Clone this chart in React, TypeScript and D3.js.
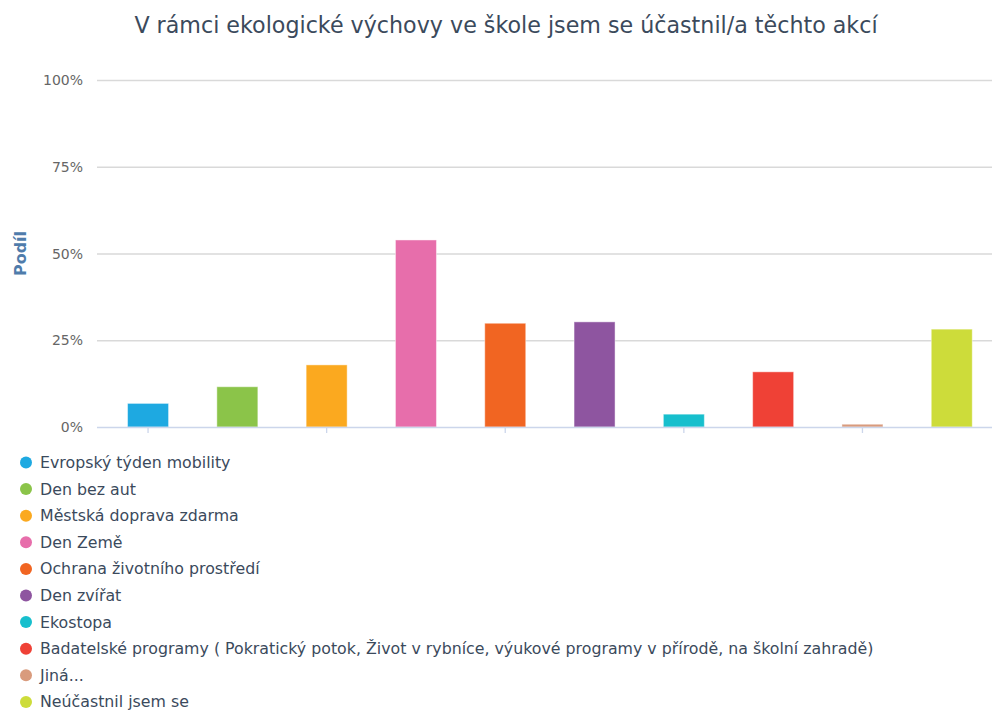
import React, { useRef, useEffect } from 'react';
import * as d3 from 'd3';

// chart data
const categories = [
  'Evropský týden mobility',
  'Den bez aut',
  'Městská doprava zdarma',
  'Den Země',
  'Ochrana životního prostředí',
  'Den zvířat',
  'Ekostopa',
  'Badatelské programy ( Pokratický potok, Život v rybníce, výukové programy v přírodě, na školní zahradě)',
  'Jiná...',
  'Neúčastnil jsem se',
];
const values = [6.8, 11.6, 17.9, 53.9, 29.9, 30.3, 3.7, 15.9, 0.8, 28.2];
const colors = [
  '#1ea9e1', '#8bc449', '#fba91f', '#e76eab', '#f16522',
  '#8e55a0', '#17bfcd', '#ef4136', '#d99b7d', '#cddc3a',
];
const yTicks = [0, 25, 50, 75, 100];

const W = 992;
const H = 711;
const FONT = '"DejaVu Sans", Verdana, sans-serif';

const App = () => {
  const svgRef = useRef(null);

  useEffect(() => {
    const svg = d3.select(svgRef.current);
    svg.selectAll('*').remove();

    const plotLeft = 97;
    const plotRight = 992;

    // scales
    const xScale = d3.scaleBand()
      .domain(categories.map((d, i) => String(i)))
      .range([103.4, 996.4])
      .padding(0);
    const yScale = d3.scaleLinear().domain([0, 100]).range([427, 80]);
    const barW = 41;

    // title
    svg.append('text')
      .attr('x', 506)
      .attr('y', 33)
      .attr('text-anchor', 'middle')
      .attr('font-family', FONT)
      .attr('font-size', 22.2)
      .attr('fill', '#3b4a5c')
      .text('V rámci ekologické výchovy ve škole jsem se účastnil/a těchto akcí');

    // gridlines
    svg.append('g')
      .selectAll('line')
      .data(yTicks.filter(t => t > 0))
      .enter()
      .append('line')
      .attr('x1', plotLeft)
      .attr('x2', plotRight)
      .attr('y1', d => yScale(d) + 0.5)
      .attr('y2', d => yScale(d) + 0.5)
      .attr('stroke', '#d9d9d9')
      .attr('stroke-width', 1.3);

    // y labels
    svg.append('g')
      .selectAll('text')
      .data(yTicks)
      .enter()
      .append('text')
      .attr('x', 83)
      .attr('y', d => yScale(d) + 5)
      .attr('text-anchor', 'end')
      .attr('font-family', FONT)
      .attr('font-size', 14)
      .attr('fill', '#666')
      .text(d => `${d}%`);

    // y axis title
    svg.append('text')
      .attr('transform', `translate(26, ${yScale(50)}) rotate(-90)`)
      .attr('text-anchor', 'middle')
      .attr('font-family', FONT)
      .attr('font-size', 16)
      .attr('font-weight', 'bold')
      .attr('fill', '#4f7cab')
      .text('Podíl');

    // bars
    svg.append('g')
      .selectAll('rect')
      .data(values)
      .enter()
      .append('rect')
      .attr('x', (d, i) => xScale(String(i)) + xScale.bandwidth() / 2 - barW / 2)
      .attr('y', d => yScale(d))
      .attr('width', barW)
      .attr('height', d => yScale(0) - yScale(d))
      .attr('fill', (d, i) => colors[i])
      .attr('stroke', 'rgba(255,255,255,0.45)')
      .attr('stroke-width', 1);

    // x axis line + ticks on every second category
    svg.append('line')
      .attr('x1', plotLeft)
      .attr('x2', plotRight)
      .attr('y1', yScale(0) + 0.5)
      .attr('y2', yScale(0) + 0.5)
      .attr('stroke', '#ccd6eb')
      .attr('stroke-width', 1.3);
    svg.append('g')
      .selectAll('line')
      .data(categories.filter((d, i) => i % 2 === 0).map((d, i) => String(i * 2)))
      .enter()
      .append('line')
      .attr('x1', d => xScale(d) + xScale.bandwidth() / 2)
      .attr('x2', d => xScale(d) + xScale.bandwidth() / 2)
      .attr('y1', yScale(0))
      .attr('y2', yScale(0) + 6)
      .attr('stroke', '#ccd6eb')
      .attr('stroke-width', 1.3);

    // legend
    const legend = svg.append('g')
      .selectAll('g')
      .data(categories)
      .enter()
      .append('g')
      .attr('transform', (d, i) => `translate(0, ${462.5 + i * 26.6})`);
    legend.append('circle')
      .attr('cx', 26)
      .attr('cy', 0)
      .attr('r', 6)
      .attr('fill', (d, i) => colors[i]);
    legend.append('text')
      .attr('x', 40)
      .attr('y', 5.5)
      .attr('font-family', FONT)
      .attr('font-size', 15.8)
      .attr('fill', '#3b4a5c')
      .text(d => d);
  }, []);

  return (
    <div style={{ position: 'absolute', left: 0, top: 0 }}>
      <svg ref={svgRef} width={W} height={H} style={{ display: 'block', background: '#fff' }}></svg>
    </div>
  );
};

export default App;
